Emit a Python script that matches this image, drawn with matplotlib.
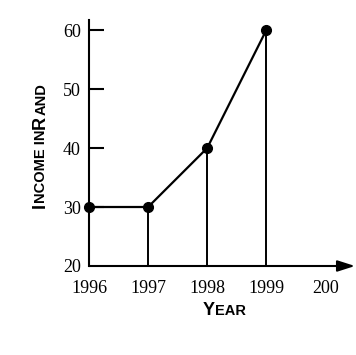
import matplotlib
matplotlib.use("Agg")
import matplotlib.pyplot as plt

# data
years = [1996, 1997, 1998, 1999]
income = [30, 30, 40, 60]
xtick_pos = [1996, 1997, 1998, 1999, 2000]
xtick_labels = ["1996", "1997", "1998", "1999", "200"]
ytick_pos = [20, 30, 40, 50, 60]
ytick_labels = ["20", "30", "40", "50", "60"]

serif = "Liberation Serif"
sans = "Liberation Sans"

fig = plt.figure(figsize=(3.56, 3.55), dpi=100)
ax = fig.add_axes([89 / 356, 89 / 355, 266 / 356, 246 / 355])
ax.set_xlim(1996, 2000.5)
ax.set_ylim(20, 61.7)

# line with drop lines to the x axis
ax.plot(years, income, color="black", lw=1.6, marker="o", ms=7,
        clip_on=False, zorder=3)
ax.vlines(years, 20, income, color="black", lw=1.4, clip_on=False)

for s in ["top", "right", "bottom"]:
    ax.spines[s].set_visible(False)
ax.spines["left"].set_linewidth(1.5)

# x axis with arrow
ax.annotate("", xy=(2000.5, 20), xytext=(1996, 20),
            arrowprops=dict(arrowstyle="-|>,head_length=0.75,head_width=0.24",
                            color="black", lw=1.5, mutation_scale=14,
                            shrinkA=0, shrinkB=0),
            annotation_clip=False)

ax.set_xticks(xtick_pos)
ax.set_xticklabels(xtick_labels, fontfamily=serif, fontsize=13)
ax.tick_params(axis="x", length=0, pad=10)
ax.set_yticks(ytick_pos)
ax.set_yticklabels(ytick_labels, fontfamily=serif, fontsize=13)
ax.tick_params(axis="y", direction="in", length=11, width=1.5, pad=6)
ax.yaxis.get_major_ticks()[0].tick1line.set_visible(False)


def small_caps(x, y, parts, rotation=0):
    # place pieces of text one after another, measuring each in pixels
    fig.canvas.draw()
    r = fig.canvas.get_renderer()
    px, py = x * fig.bbox.width, y * fig.bbox.height
    for s, size in parts:
        t = fig.text(px / fig.bbox.width, py / fig.bbox.height, s,
                     fontfamily=sans, fontweight="bold", fontsize=size,
                     rotation=rotation, rotation_mode="anchor",
                     ha="left", va="baseline")
        bb = t.get_window_extent(r)
        if rotation == 90:
            py += bb.height + 0.5
        else:
            px += bb.width + 0.5


small_caps(0.570, 0.113, [("Y", 13), ("EAR", 10.5)])
small_caps(0.127, 0.414, [("I", 13), ("NCOME IN", 10.5), ("R", 13),
                          ("AND", 10.5)], rotation=90)

fig.savefig("out.png", dpi=100)
